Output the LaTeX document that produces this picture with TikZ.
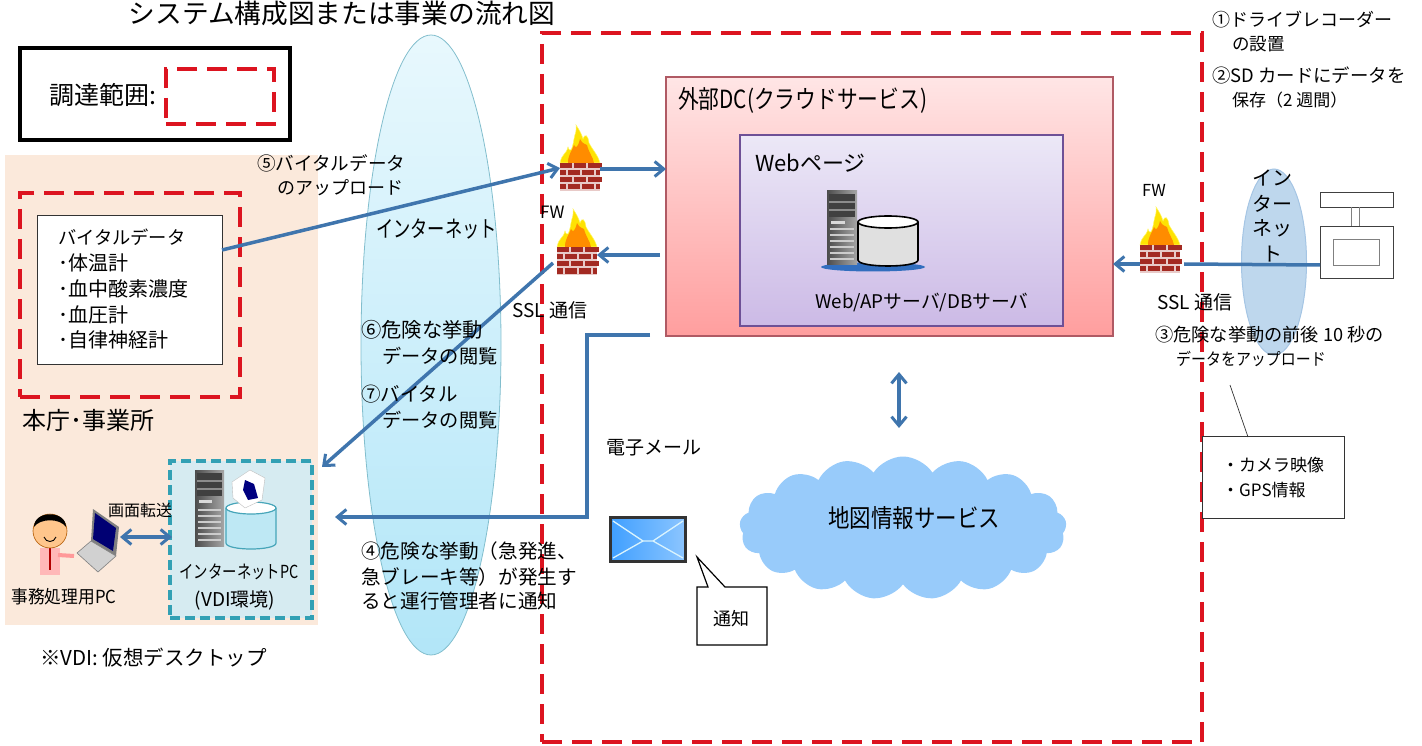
\documentclass[tikz,border=0pt]{standalone}
\usepackage{fontspec}
\usepackage{graphicx}
\setmainfont{Noto Sans CJK JP}
\usetikzlibrary{arrows.meta,shapes.geometric,shapes.symbols,shapes.callouts}
\definecolor{arrowblue}{HTML}{3F75AD}
\definecolor{redd}{HTML}{DC1420}
\definecolor{brick}{HTML}{A32A22}
\definecolor{basecol}{RGB}{50,110,190}
\definecolor{vdicyl}{RGB}{70,165,185}
\newcommand{\sx}[2]{\scalebox{#1}[1]{#2}}
\newcommand{\fs}[1]{\fontsize{#1}{#1}\selectfont}
\tikzset{
  x=1pt,y=-1pt,
  lbl/.style={anchor=west,inner sep=0pt,text=black,font=\fs{18}},
  ctr/.style={inner sep=0pt,text=black},
  box/.style={inner sep=0pt,outer sep=0pt},
  reddash/.style={draw=redd,line width=4pt,dash pattern=on 20pt off 10pt},
  arr/.style={draw=arrowblue,line width=3.5pt,-{Straight Barb[length=9pt,width=15pt,line width=3pt]}},
  dblarr/.style={draw=arrowblue,line width=3.5pt,{Straight Barb[length=9pt,width=15pt,line width=3pt]}-{Straight Barb[length=9pt,width=15pt,line width=3pt]}},
  plainline/.style={draw=arrowblue,line width=3.5pt},
}
% firewall: name, left x, top y (size 40 x 66)
\newcommand{\firewall}[3]{%
  \node[box,minimum width=40pt,minimum height=66pt,anchor=north west] (#1) at (#2,#3) {};
  \begin{scope}[shift={(#2,#3)}]
    \fill[yellow!85!orange,draw=yellow!60!white,line width=.5pt] (0,38) .. controls (2,28) and (6,30) .. (8,22) .. controls (10,28) and (12,26) .. (14,14) .. controls (15,8) and (17,6) .. (16,0) .. controls (20,6) and (22,10) .. (23,14) .. controls (25,8) and (28,10) .. (29,18) .. controls (32,24) and (38,30) .. (40,38) -- cycle;
    \fill[orange!90!yellow] (8,38) .. controls (8,30) and (11,28) .. (14,20) .. controls (16,24) and (18,22) .. (20,14) .. controls (23,20) and (25,18) .. (27,20) .. controls (29,28) and (33,32) .. (34,38) -- cycle;
    \fill[brick!25!white] (0,38) rectangle (40,66);
    \foreach \row/\off in {38/0,45/-6,52/0,59/-6}{
      \foreach \k in {0,1,2,3}{
        \pgfmathsetmacro{\xa}{max(0,\off+\k*14)}
        \pgfmathsetmacro{\xb}{min(40,\off+\k*14+12)}
        \fill[brick] (\xa,\row) rectangle (\xb,\row+5.5);
      }
    }
  \end{scope}}
% tower server: left x, top y, width, height
\newcommand{\tower}[4]{%
  \begin{scope}[shift={(#1,#2)},xscale=#3/30,yscale=#4/75]
    \shade[left color=black!70,right color=black!35] (0,0) rectangle (30,75);
    \fill[black!75] (2,3) rectangle (28,26);
    \fill[black!45] (2,10) rectangle (28,12);
    \fill[black!45] (2,18) rectangle (28,20);
    \fill[black!15] (4,30) rectangle (18,33);
    \foreach \yy in {38,44,50,56,62,68}{\fill[black!20] (3,\yy) rectangle (27,\yy+2);}
  \end{scope}}
\begin{document}
\begin{tikzpicture}
\useasboundingbox (0,0) rectangle (1422,746);
% backgrounds
\node[box,fill={rgb,255:red,251;green,233;blue,219},minimum width=313pt,minimum height=470pt] (office) at (161.5,390) {};
\node[box,draw=black,line width=4pt,fill=white,minimum width=270pt,minimum height=92pt] (scope) at (155,94) {};
\node[box,reddash,minimum width=108pt,minimum height=55pt] (legend) at (220,96.5) {};
\node[box,reddash,minimum width=220pt,minimum height=204pt] (vitalarea) at (130,295) {};
\node[box,draw=black!80,line width=.8pt,fill=white,minimum width=185pt,minimum height=149pt] (vitalbox) at (129.5,289.5) {};
% internet ellipse
\node[ellipse,box,top color={rgb,255:red,232;green,248;blue,253},bottom color={rgb,255:red,178;green,230;blue,248},draw={rgb,255:red,130;green,190;blue,205},line width=.8pt,minimum width=140pt,minimum height=620pt] (inet) at (431,345) {};
% big dashed area
\node[box,reddash,minimum width=660pt,minimum height=709pt] (area) at (872,387.5) {};
% DC
\node[box,draw={rgb,255:red,176;green,90;blue,100},line width=1.5pt,top color=red!10!white,bottom color=red!38!white,minimum width=447pt,minimum height=259pt] (dc) at (889.5,206.5) {};
\node[box,draw={rgb,255:red,110;green,80;blue,150},line width=1.5pt,top color={rgb,255:red,236;green,232;blue,247},bottom color={rgb,255:red,204;green,186;blue,230},minimum width=323pt,minimum height=191pt] (web) at (901.5,230.5) {};
% web server icon
\fill[basecol] (873,267) ellipse [x radius=52,y radius=4.5];
\tower{827}{191}{30}{74}
\draw[black,line width=1.6pt,fill=black!12] (858,222) -- (858,260) .. controls (858,268) and (918,268) .. (918,260) -- (918,222);
\draw[black,line width=1.6pt,fill=white] (888,222) ellipse [x radius=30,y radius=6];
% VDI box
\node[box,draw={rgb,255:red,50;green,160;blue,180},line width=3.5pt,dash pattern=on 10pt off 5pt,fill={rgb,255:red,214;green,235;blue,241},minimum width=142pt,minimum height=157pt] (vdi) at (241,539.5) {};
\tower{195}{470}{29}{76}
\draw[vdicyl,line width=1.2pt,fill={rgb,255:red,190;green,232;blue,244}] (226,508) -- (226,543) .. controls (226,551) and (276,551) .. (276,543) -- (276,508);
\draw[vdicyl,line width=1.2pt,fill=white] (251,508) ellipse [x radius=25,y radius=6];
\fill[white,draw=black!25] (232,482) -- (250,470) -- (265,478) -- (262,500) -- (245,508) -- (233,498) -- cycle;
\fill[blue!50!black] (245,480) -- (254,484) -- (258,498) -- (248,500) -- (243,490) -- cycle;
% person
\fill[pink!80!red!70!white] (40,548) rectangle (60,575);
\draw[pink!80!red,line width=4pt] (58,555) -- (74,556);
\draw[red!70!black,line width=1.5pt] (50,548) -- (50,570);
\fill[orange!45!white,draw=orange!70!black,line width=.6pt] (50,531) circle [radius=17];
\fill[black] (34,527) .. controls (34,510) and (66,510) .. (66,527) .. controls (60,518) and (40,518) .. cycle;
\draw[black,line width=.9pt] (44,537) .. controls (46,543) and (54,543) .. (56,537);
% laptop
\fill[black!50] (93,509) -- (119,527) -- (116,556) -- (91,541) -- cycle;
\fill[blue!45!black] (95,513) -- (116,528) -- (113,551) -- (93,539) -- cycle;
\fill[black!18,draw=black!50,line width=.6pt] (91,541) -- (116,556) -- (98,572) -- (77,553) -- cycle;
% camera
\node[box,draw=black!75,line width=.7pt,minimum width=73pt,minimum height=15pt] (camtop) at (1356.5,199.5) {};
\node[box,draw=black!75,line width=.7pt,minimum width=73pt,minimum height=52pt] (cam) at (1356.5,252) {};
\draw[black!50,line width=.7pt] (1351.5,207) -- (1351.5,226) (1359,207) -- (1359,226);
\node[box,draw=black!50,line width=.7pt,minimum width=46pt,minimum height=26pt] (camin) at (1356,252) {};
% small internet
\node[ellipse,box,fill={rgb,255:red,190;green,215;blue,237},draw={rgb,255:red,165;green,197;blue,228},line width=1pt,minimum width=65pt,minimum height=186pt] (inet2) at (1274,262) {};
% cloud
\node[cloud,cloud puffs=17,cloud puff arc=115,aspect=2.3,box,fill={rgb,255:red,152;green,203;blue,250},minimum width=327pt,minimum height=143pt] (cloudn) at (903,528) {};
% mail
\node[box,draw=black!80,line width=3.5pt,left color=blue!50!cyan!75!white,right color=blue!50!cyan!45!white,minimum width=75pt,minimum height=44pt] (mail) at (648,539.5) {};
\draw[white!85!cyan,line width=1.3pt] (613,521) -- (643,541) -- (653,541) -- (683,521) (613,558) -- (643,541) (653,541) -- (683,558);
% callout
\draw[black,line width=1.2pt,fill=white] (697,587) -- (708,587) -- (697,557) -- (725,587) -- (767,587) -- (767,645) -- (697,645) -- cycle;
% info box
\node[box,draw=black!80,line width=.7pt,fill=white,minimum width=142pt,minimum height=82pt] (info) at (1273,477) {};
% firewalls
\firewall{fw1}{560}{125}
\firewall{fw2}{557}{209}
\firewall{fw3}{1140}{207}
% named ends
\coordinate (vitalout) at (222,250);
\coordinate (fw2out) at (553,263);
\coordinate (vdiin) at (322,467);
\coordinate (dcmail) at (650,335);
\coordinate (mailin) at (335,517);
\coordinate (dcfw) at (660,255);
\coordinate (fw3r) at (1184,264);
\coordinate (mapu) at (899,372);
\coordinate (mapd) at (899,428);
\coordinate (pcr) at (120,537);
\coordinate (vdil) at (172,537);
\coordinate (leadA) at (1248,437);
\coordinate (leadB) at (1230,385);
% connectors
\draw[arr] (vitalout) -- (fw1.west |- 0,168);
\draw[arr] (fw1.east |- 0,169) -- (dc.west |- 0,169);
\draw[arr] (dcfw) -- (fw2.east |- 0,255);
\draw[arr] (fw2out) -- (vdiin);
\draw[arr] (fw3.west |- 0,264) -- (dc.east |- 0,264);
\draw[plainline] (fw3r) -- (cam.west |- 0,265);
\draw[dblarr] (mapu) -- (mapd);
\draw[dblarr] (pcr) -- (vdil);
\draw[arr] (dcmail) -- (587,335) -- (587,517) -- (mailin);
\draw[black!80,line width=.7pt] (leadA) -- (leadB);
% texts
\node[ctr,font=\fs{26.7}] (title) at (342,13) {システム構成図または事業の流れ図};
\node[lbl,font=\fs{25}] (t1) at (49,95) {調達範囲:};
\node[lbl,font=\fs{18.3}] (t2) at (58,237) {バイタルデータ};
\node[lbl,font=\fs{20}] (t3) at (58,263) {･体温計};
\node[lbl,font=\fs{20}] (t4) at (58,289) {･血中酸素濃度};
\node[lbl,font=\fs{20}] (t5) at (58,315) {･血圧計};
\node[lbl,font=\fs{20}] (t6) at (58,340) {･自律神経計};
\node[lbl,font=\fs{24}] (t7) at (22,420) {本庁･事業所};
\node[lbl,font=\fs{18.6}] (t8) at (257,163) {⑤バイタルデータ};
\node[lbl] (t9) at (277,188) {のアップロード};
\node[lbl,font=\fs{17}] (t10) at (540,212) {FW};
\node[lbl,font=\fs{19}] (t11) at (512,310) {SSL 通信};
\node[lbl,font=\fs{23}] (t12) at (376,229) {\sx{.75}{インターネット}};
\node[lbl,font=\fs{20.3}] (t13) at (361,330) {⑥危険な挙動};
\node[lbl,font=\fs{19.2}] (t14) at (382,356) {データの閲覧};
\node[lbl,font=\fs{19.5}] (t15) at (361,394) {⑦バイタル};
\node[lbl,font=\fs{19.2}] (t16) at (382,420) {データの閲覧};
\node[lbl,font=\fs{19}] (t17) at (606,448) {電子メール};
\node[lbl,font=\fs{19.6}] (t18) at (361,551) {④危険な挙動（急発進、};
\node[lbl,font=\fs{19.6}] (t19) at (361,577) {急ブレーキ等）が発生す};
\node[lbl,font=\fs{19.6}] (t20) at (361,601) {ると運行管理者に通知};
\node[lbl,font=\fs{25}] (t21) at (678,100) {\sx{.83}{外部DC(クラウドサービス)}};
\node[lbl,font=\fs{22}] (t22) at (755,163) {Webページ};
\node[lbl,font=\fs{18.8}] (t23) at (815,302) {Web/APサーバ/DBサーバ};
\node[ctr,font=\fs{25}] (t24) at (914,518) {\sx{.86}{地図情報サービス}};
\node[ctr,font=\fs{18}] (t25) at (731,619) {通知};
\node[ctr,font=\fs{18}] (t26) at (239,572) {\sx{.8}{インターネットPC}};
\node[ctr,font=\fs{19}] (t27) at (235,600) {(VDI環境)};
\node[ctr,font=\fs{18}] (t28) at (64,597) {\sx{.93}{事務処理用PC}};
\node[ctr,font=\fs{16}] (t29) at (140,510) {画面転送};
\node[lbl,font=\fs{20.5}] (t30) at (40,658) {※VDI: 仮想デスクトップ};
\node[lbl] (t31) at (1212,20) {①ドライブレコーダー};
\node[lbl,font=\fs{17.5}] (t32) at (1232,44) {の設置};
\node[lbl,font=\fs{18.4}] (t33) at (1212,75) {②SD カードにデータを};
\node[lbl,font=\fs{17}] (t34) at (1232,100) {保存（2 週間）};
\node[lbl,font=\fs{16.5}] (t35) at (1142,190) {FW};
\node[lbl,font=\fs{19}] (t36) at (1157,302) {SSL 通信};
\node[lbl,font=\fs{18.2}] (t37) at (1155,335) {③危険な挙動の前後 10 秒の};
\node[lbl,font=\fs{16.8}] (t38) at (1176,359) {\sx{.89}{データをアップロード}};
\node[lbl,font=\fs{17}] (t39) at (1222,465) {・カメラ映像};
\node[lbl,font=\fs{17}] (t40) at (1222,490) {・GPS情報};
\node[ctr,font=\fs{20}] (t41) at (1272,178) {イン};
\node[ctr,font=\fs{20}] (t42) at (1272,204) {ター};
\node[ctr,font=\fs{20}] (t43) at (1272,228) {ネッ};
\node[ctr,font=\fs{20}] (t44) at (1272,254) {ト};
\end{tikzpicture}
\end{document}
